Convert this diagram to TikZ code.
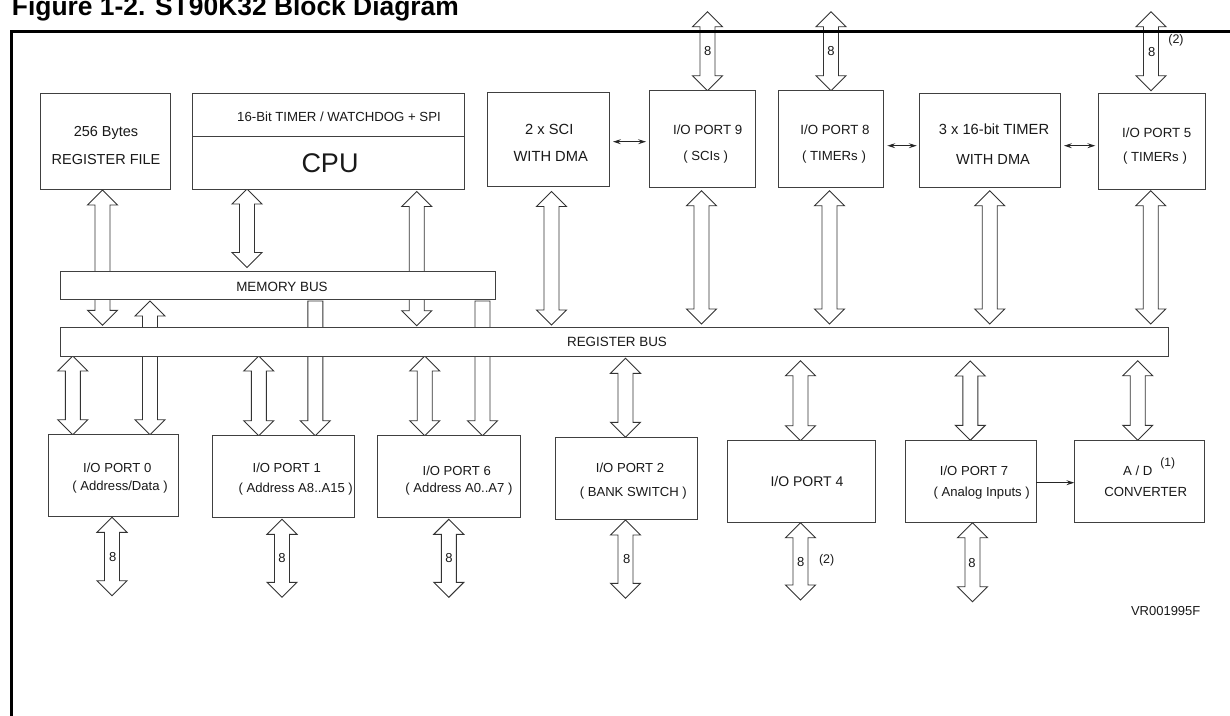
\documentclass[tikz,border=0pt]{standalone}
\usepackage{fontspec}
\setmainfont{Liberation Sans}
\usetikzlibrary{calc,arrows.meta}
\pgfdeclarelayer{bg}
\pgfsetlayers{bg,main}
\tikzset{
  box/.style={draw=black!75, fill=white, line width=0.9pt, inner sep=0pt, outer sep=0pt},
  barrow/.style={draw=black!80, fill=white, line width=0.9pt, line join=miter},
  txt/.style={inner sep=0pt, anchor=base, text=black!90},
  frameline/.style={line width=3pt, black},
  smallarr/.style={draw=black!85, line width=0.8pt, {Stealth[length=8pt,width=5pt,inset=3pt]}-{Stealth[length=8pt,width=5pt,inset=3pt]}},
  onearr/.style={draw=black!85, line width=0.8pt, -{Stealth[length=8pt,width=5pt,inset=3pt]}}
}
% double hollow arrow: x, top end, bottom end
\newcommand\dba[3]{\path[barrow] let \p1=(#2), \p2=(#3) in
 (#1pt,\y1) -- (#1pt+15pt,\y1-15pt) -- (#1pt+7.5pt,\y1-15pt) -- (#1pt+7.5pt,\y2+15pt) -- (#1pt+15pt,\y2+15pt) -- (#1pt,\y2) -- (#1pt-15pt,\y2+15pt) -- (#1pt-7.5pt,\y2+15pt) -- (#1pt-7.5pt,\y1-15pt) -- (#1pt-15pt,\y1-15pt) -- cycle;}
% single hollow arrow pointing down: x, tail, tip
\newcommand\sda[3]{\path[barrow] let \p1=(#2), \p2=(#3) in
 (#1pt-7.5pt,\y1) -- (#1pt+7.5pt,\y1) -- (#1pt+7.5pt,\y2+15pt) -- (#1pt+15pt,\y2+15pt) -- (#1pt,\y2) -- (#1pt-15pt,\y2+15pt) -- (#1pt-7.5pt,\y2+15pt) -- cycle;}
\newcommand\bx[5]{\node[box,minimum width=#4pt,minimum height=#5pt] (#1) at (#2,#3) {};}
\newcommand\tx[5]{\node[txt,font=\fontsize{#4}{#4}\selectfont] (#1) at (#2,{#3+0.358*#4}) {#5};}
\begin{document}
\begin{tikzpicture}[x=1pt,y=-1pt]
\useasboundingbox (0,0) rectangle (1230,715);
% title
\node[anchor=base west, inner sep=0pt, font=\bfseries\fontsize{26.4}{26.4}\selectfont] (title) at (11.7,15) {Figure 1-2. ST90K32 Block Diagram};
% top row
\bx{regfile}{105.35}{141.35}{129.3}{95.3}
\bx{cpu}{328.5}{141.35}{271.6}{95.3}
\draw[draw=black!75, line width=0.9pt] ($(cpu.north west)+(0,42.3)$) -- ($(cpu.north east)+(0,42.3)$);
\bx{sci}{548.15}{139.35}{121.7}{93.3}
\bx{p9}{702.35}{139}{106.7}{96.6}
\bx{p8}{830.8}{139}{105}{96.6}
\bx{tim}{989.85}{140.5}{140.3}{93.6}
\bx{p5}{1152}{141.15}{107.4}{95.7}
% buses
\bx{membus}{278}{285.4}{435.4}{27.8}
\bx{regbus}{614.5}{341.65}{1108.4}{28.7}
% bottom row
\bx{p0}{113.5}{475.5}{129.6}{81.6}
\bx{p1}{283.15}{476.5}{142.3}{81.6}
\bx{p6}{449}{476.5}{143.4}{81.6}
\bx{p2}{626.5}{478.3}{141.6}{82}
\bx{p4}{801.15}{481.35}{147.7}{81.3}
\bx{p7}{970.65}{481.15}{130.7}{81.7}
\bx{ad}{1139.15}{481.15}{129.7}{81.7}
% free ends
\coordinate (t9) at (707.5,11.7);
\coordinate (t8) at (831,11.7);
\coordinate (t5) at (1151,11.7);
\coordinate (d0) at (112,595.7);
\coordinate (d1) at (282,597.3);
\coordinate (d6) at (448.8,597.3);
\coordinate (d2) at (625.5,598.3);
\coordinate (d4) at (800.5,600);
\coordinate (d7) at (972.5,601.7);
% block arrows (behind the boxes and buses)
\begin{pgfonlayer}{bg}
\dba{102.5}{$(regfile.south)+(0,1)$}{$(regbus.north)+(0,-2)$}
\dba{247}{cpu.south}{$(membus.north)+(0,-4)$}
\dba{416.7}{$(cpu.south)+(0,2.5)$}{$(regbus.north)+(0,-1.6)$}
\dba{150}{$(membus.south)+(0,1.7)$}{p0.north}
\sda{315.3}{$(membus.south)+(0,1.7)$}{p1.north}
\sda{482.5}{$(membus.south)+(0,1.7)$}{p6.north}
\dba{551.5}{$(sci.south)+(0,5.5)$}{$(regbus.north)+(0,-2.3)$}
\dba{701.5}{$(p9.south)+(0,3.4)$}{$(regbus.north)+(0,-3.3)$}
\dba{829.5}{$(p8.south)+(0,3.4)$}{$(regbus.north)+(0,-3.3)$}
\dba{989.7}{$(tim.south)+(0,3.4)$}{$(regbus.north)+(0,-3.3)$}
\dba{1150.7}{$(p5.south)+(0,1.7)$}{$(regbus.north)+(0,-3.3)$}
\dba{707.5}{t9}{p9.north}
\dba{831}{t8}{p8.north}
\dba{1151}{t5}{$(p5.north)+(0,-2.6)$}
\dba{72.8}{regbus.south}{p0.north}
\dba{258.8}{regbus.south}{p1.north}
\dba{424.7}{regbus.south}{p6.north}
\dba{625.5}{$(regbus.south)+(0,2.3)$}{p2.north}
\dba{800.5}{$(regbus.south)+(0,4.7)$}{p4.north}
\dba{970.3}{$(regbus.south)+(0,5)$}{p7.north}
\dba{1137.7}{$(regbus.south)+(0,4.7)$}{ad.north}
\dba{112}{$(p0.south)+(0,1)$}{d0}
\dba{282}{$(p1.south)+(0,2)$}{d1}
\dba{448.8}{$(p6.south)+(0,2)$}{d6}
\dba{625.5}{$(p2.south)+(0,0.7)$}{d2}
\dba{800.5}{$(p4.south)+(0,0.7)$}{d4}
\dba{972.5}{$(p7.south)+(0,0.7)$}{d7}
\end{pgfonlayer}
% frame
\coordinate (fbl) at (11.7,720);
\coordinate (ftl) at (11.7,31.7);
\coordinate (ftr) at (1235,31.7);
\draw[frameline] (fbl) -- (ftl) -- (ftr);
% small arrows
\coordinate (s1) at (0,141.7);
\coordinate (s2) at (0,145.7);
\coordinate (s3) at (0,482.7);
\draw[smallarr, shorten <=4pt, shorten >=3pt] (sci.east |- s1) -- (p9.west |- s1);
\draw[smallarr, shorten <=4pt, shorten >=3pt] (p8.east |- s2) -- (tim.west |- s2);
\draw[smallarr, shorten <=4pt, shorten >=3pt] (tim.east |- s2) -- (p5.west |- s2);
\draw[onearr] (p7.east |- s3) -- (ad.west |- s3);
% texts
\tx{l1}{106}{131}{14.5}{256 Bytes}
\tx{l2}{106}{159}{14.5}{REGISTER FILE}
\tx{l3}{339}{117}{13.2}{16-Bit TIMER / WATCHDOG + SPI}
\tx{l4}{330}{163}{27}{CPU}
\tx{l5}{549.3}{129}{14.7}{2 x SCI}
\tx{l6}{550.7}{156.7}{14.7}{WITH DMA}
\tx{l7}{707.7}{129.3}{13.3}{I/O PORT 9}
\tx{l8}{705.7}{156}{13.2}{( SCIs )}
\tx{l9}{835}{129.3}{13.3}{I/O PORT 8}
\tx{l10}{834}{156}{13.2}{( TIMERs )}
\tx{l11}{994}{129.3}{14.7}{3 x 16-bit TIMER}
\tx{l12}{993}{159.3}{14.6}{WITH DMA}
\tx{l13}{1156.7}{132.3}{13.3}{I/O PORT 5}
\tx{l14}{1155}{156.7}{13.2}{( TIMERs )}
\tx{l15}{282}{286.7}{13.4}{MEMORY BUS}
\tx{l16}{617}{341.7}{13.4}{REGISTER BUS}
\tx{l17}{117.3}{467.7}{13.1}{I/O PORT 0}
\tx{l18}{120}{485.7}{13.1}{( Address/Data )}
\tx{l19}{286.7}{467.7}{13.1}{I/O PORT 1}
\tx{l20}{295.7}{488.3}{13.1}{( Address A8..A15 )}
\tx{l21}{456.7}{470.7}{13.1}{I/O PORT 6}
\tx{l22}{459}{487.7}{13.1}{( Address A0..A7 )}
\tx{l23}{630}{468.3}{13.1}{I/O PORT 2}
\tx{l24}{633.3}{492.3}{13.1}{( BANK SWITCH )}
\tx{l25}{807}{481}{14}{I/O PORT 4}
\tx{l26}{974}{470.7}{13.1}{I/O PORT 7}
\tx{l27}{981.7}{492.3}{13.1}{( Analog Inputs )}
\tx{l28}{1137.7}{471}{13.2}{A / D}
\tx{l29}{1167.7}{462.3}{12}{(1)}
\tx{l30}{1145.7}{491.7}{13.2}{CONVERTER}
\tx{l31}{1165.7}{611}{13}{VR001995F}
% bus widths
\tx{n1}{707.7}{50.7}{13}{8}
\tx{n2}{831}{50.7}{13}{8}
\tx{n3}{1151.7}{52.3}{13}{8}
\tx{n4}{1176}{39.3}{12.5}{(2)}
\tx{n5}{112.7}{556.7}{13}{8}
\tx{n6}{282}{558.3}{13}{8}
\tx{n7}{449}{558.3}{13}{8}
\tx{n8}{626.7}{559.3}{13}{8}
\tx{n9}{800.7}{561.7}{13}{8}
\tx{n10}{826.7}{559.3}{12.5}{(2)}
\tx{n11}{972}{562.7}{13}{8}
\end{tikzpicture}
\end{document}
